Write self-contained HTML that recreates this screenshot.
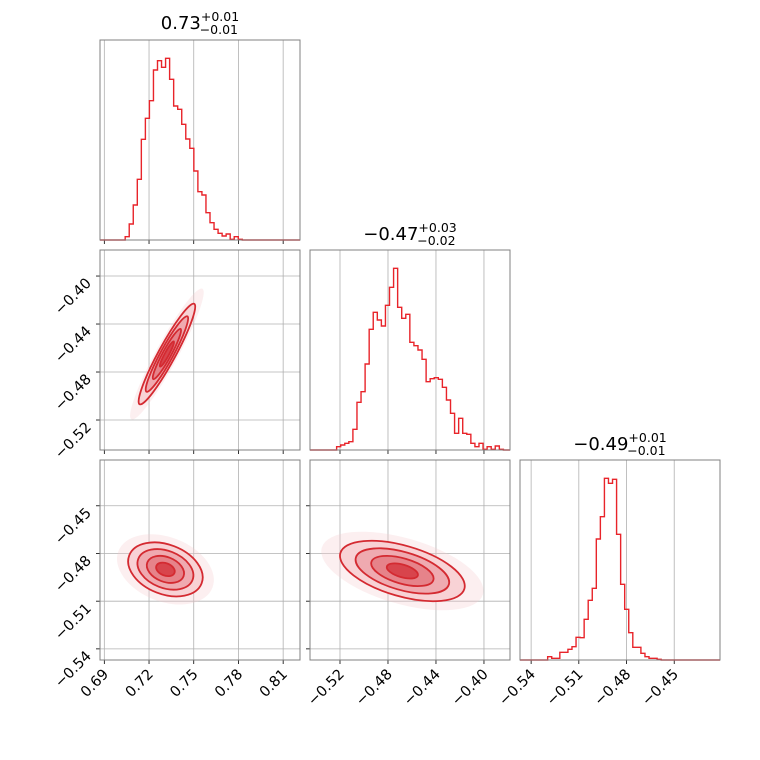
<!DOCTYPE html>
<html><head><meta charset="utf-8"><style>
body{margin:0;background:#fff}
svg{display:block;font-family:"DejaVu Sans","Liberation Sans",sans-serif}
</style></head><body>
<svg id="c" width="760" height="760" viewBox="0 0 760 760"></svg>
<script>
// ---- data ----
const h1Start = 0.7040, h1Width = 0.00271;
const h1Counts = [10,48,105,182,302,365,418,510,538,518,545,482,402,392,347,303,275,207,145,135,82,52,32,20,12,18,2,10,2];
const h2Start = -0.5228, h2Width = 0.00339;
const h2Counts = [10,15,20,25,62,143,175,258,362,413,390,372,434,488,545,428,395,407,323,313,300,272,205,214,217,212,188,150,110,50,95,50,47,20,10,20,2,10,2,12,2];
const h3Start = -0.5296, h3Width = 0.00255;
const h3Counts = [10,5,5,23,23,32,40,68,67,122,179,215,363,430,545,530,542,377,227,152,82,38,38,20,10,5,5,2];
const xTicks1 = [0.69,0.72,0.75,0.78,0.81], xTickLabels1 = ["0.69","0.72","0.75","0.78","0.81"];
const xTicks2 = [-0.52,-0.48,-0.44,-0.40], xTickLabels2 = ["\u22120.52","\u22120.48","\u22120.44","\u22120.40"];
const xTicks3 = [-0.54,-0.51,-0.48,-0.45], xTickLabels3 = ["\u22120.54","\u22120.51","\u22120.48","\u22120.45"];
// 2D gaussians: [cx, cy, sx, sy, rho]
const g12 = [0.732, -0.465, 0.0095, 0.021, 0.94];
const g13 = [0.731, -0.490, 0.0125, 0.0085, -0.3];
const g23 = [-0.468, -0.491, 0.026, 0.0095, -0.5];
const levels = [2.0, 1.5, 1.0, 0.5];
const titles = [["0.73","+0.01","\u22120.01"],["\u22120.47","+0.03","\u22120.02"],["\u22120.49","+0.01","\u22120.01"]];

const NS="http://www.w3.org/2000/svg", svg=document.getElementById('c');
function el(t,a,p){const e=document.createElementNS(NS,t);for(const k in a)e.setAttribute(k,a[k]);(p||svg).appendChild(e);return e;}
const R1=[0.6871,0.8213], R2=[-0.545,-0.3783], R3=[-0.547,-0.4212];
function sc(d,p0,p1){return v=>p0+(v-d[0])/(d[1]-d[0])*(p1-p0);}
function panel(name,x0,y0,xr,yr,xt,yt){
  const g=el('g',{});  
  const X=sc(xr,x0,x0+200), Y=yr?sc(yr,y0+200,y0):null;
  xt.forEach(t=>{const l=el('line',{x1:X(t),x2:X(t),y1:y0,y2:y0+200,stroke:'#b0b0b0','stroke-width':0.8},g);
    el('line',{x1:X(t),x2:X(t),y1:y0+200,y2:y0+204,stroke:'#000','stroke-width':0.8},g);});
  if(yt)yt.forEach(t=>{const l=el('line',{y1:Y(t),y2:Y(t),x1:x0,x2:x0+200,stroke:'#b0b0b0','stroke-width':0.8},g);
    el('line',{y1:Y(t),y2:Y(t),x1:x0-4,x2:x0,stroke:'#000','stroke-width':0.8},g);});
  return {g,X,Y,x0,y0};
}
function frame(p){const r=el('rect',{x:p.x0,y:p.y0,width:200,height:200,fill:'none',stroke:'#808080','stroke-width':1},p.g);}
function hist(p,start,w,counts,name){
  const Yh=v=>p.y0+200-v/600*200;
  let d=`M${p.x0},${p.y0+200}L${p.X(start)},${p.y0+200}`;
  counts.forEach((c,i)=>{d+=`L${p.X(start+i*w)},${Yh(c)}L${p.X(start+(i+1)*w)},${Yh(c)}`;});
  d+=`L${p.X(start+counts.length*w)},${p.y0+200}L${p.x0+200},${p.y0+200}`;
  const e=el('path',{d,fill:'none',stroke:'#e8242a','stroke-width':1.4},p.g);
  
}
function gauss(p,gp,name){
  const [cx,cy,sx,sy,rho]=gp;
  const kx=(p.X(1)-p.X(0)), ky=(p.Y(0)-p.Y(1));
  const a=(sx*kx)**2,c=(sy*ky)**2,b=-rho*sx*kx*sy*ky;
  const tr=(a+c)/2, df=Math.sqrt(((a-c)/2)**2+b*b);
  const l1=tr+df,l2=tr-df, ang=0.5*Math.atan2(2*b,a-c)*180/Math.PI;
  const px=p.X(cx),py=p.Y(cy);
  const g=el('g',{transform:`translate(${px},${py}) rotate(${ang})`},p.g);
  
  const halo=el('ellipse',{rx:2.6*Math.sqrt(l1),ry:2.6*Math.sqrt(l2),fill:'#f6c9cc',opacity:0.3},g);
  
  const fills=['#f8d2d5','#efaab0','#e6838a','#d8444c'];
  levels.forEach((r,i)=>{const e=el('ellipse',{rx:r*Math.sqrt(l1),ry:r*Math.sqrt(l2),fill:fills[i],stroke:'#d42a31','stroke-width':1.8},g);
    });
}
function xlabels(p,ticks,labels){ticks.forEach((t,i)=>{const x=p.X(t)+5,y=p.y0+215;
  const e=el('text',{x,y,'font-size':14.5,'text-anchor':'end',transform:`rotate(-45 ${x} ${y})`},p.g);e.textContent=labels[i];
  });}
function ylabels(p,ticks,labels){ticks.forEach((t,i)=>{const x=p.x0-8,y=p.Y(t)+8;
  const e=el('text',{x,y,'font-size':14.5,'text-anchor':'end',transform:`rotate(-45 ${x} ${y})`},p.g);e.textContent=labels[i];
  });}
function title(cx,y,t,name){const e=el('text',{x:cx,y,'font-size':18,'text-anchor':'middle'});
  
  const a=el('tspan',{},e);a.textContent=t[0];
  const b=el('tspan',{'font-size':12.5,dy:-8},e);b.textContent=t[1];
  const w=t[1].length*7.9;
  const c=el('tspan',{'font-size':12.5,dx:-w,dy:13},e);c.textContent=t[2];
}
const p11=panel('hist-param1',100,40,R1,null,xTicks1,null); hist(p11,h1Start,h1Width,h1Counts,'hist-line-1'); frame(p11);
const p21=panel('scatter-1-2',100,250,R1,R2,xTicks1,xTicks2); gauss(p21,g12,'contours-1-2'); frame(p21); ylabels(p21,xTicks2,xTickLabels2);
const p22=panel('hist-param2',310,250,R2,null,xTicks2,null); hist(p22,h2Start,h2Width,h2Counts,'hist-line-2'); frame(p22);
const p31=panel('scatter-1-3',100,460,R1,R3,xTicks1,xTicks3); gauss(p31,g13,'contours-1-3'); frame(p31); ylabels(p31,xTicks3,xTickLabels3); xlabels(p31,xTicks1,xTickLabels1);
const p32=panel('scatter-2-3',310,460,R2,R3,xTicks2,xTicks3); gauss(p32,g23,'contours-2-3'); frame(p32); xlabels(p32,xTicks2,xTickLabels2);
const p33=panel('hist-param3',520,460,R3,null,xTicks3,null); hist(p33,h3Start,h3Width,h3Counts,'hist-line-3'); frame(p33); xlabels(p33,xTicks3,xTickLabels3);
title(200,29,titles[0],'title-param1'); title(410,240,titles[1],'title-param2'); title(620,450,titles[2],'title-param3');
</script>
</body></html>
